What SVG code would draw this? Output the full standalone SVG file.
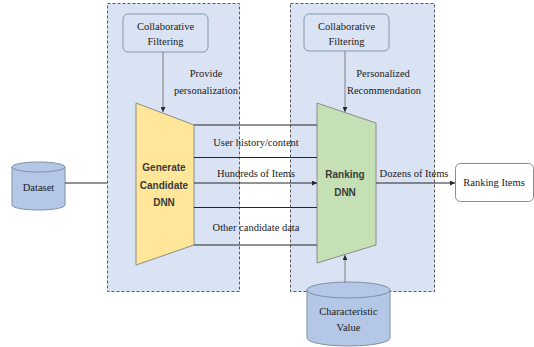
<svg xmlns="http://www.w3.org/2000/svg" width="534" height="347" viewBox="0 0 534 347">
<defs>
<style>
.zone{fill:#dae3f3;stroke:#595959;stroke-width:1;stroke-dasharray:3,2}
.cf{fill:#dae3f3;stroke:#8497b0;stroke-width:1}
.lbl{font-family:"Liberation Serif","Times New Roman",serif;font-size:10.5px;fill:#1a1a1a;text-anchor:middle}
.bold{font-family:"Liberation Sans",Arial,sans-serif;font-weight:bold;font-size:10px;fill:#3a3a3a;text-anchor:middle}
.ln{stroke:#262626;stroke-width:1;fill:none}
.thin{stroke:#7f7f7f;stroke-width:1;fill:none}
.cyl{fill:#b4c7e7;stroke:#7f8fa6;stroke-width:1}
</style>
<marker id="ah" viewBox="0 0 10 10" refX="10" refY="5" markerWidth="5" markerHeight="5" orient="auto"><path d="M0,0 L10,5 L0,10 z" fill="#262626"/></marker>
</defs>
<rect width="534" height="347" fill="#ffffff"/>
<g id="zone-left"><rect class="zone" x="107.5" y="3.5" width="132" height="288"/></g>
<g id="zone-right"><rect class="zone" x="290.5" y="3.5" width="144" height="288"/></g>
<g id="cf-left"><rect class="cf" x="123" y="14" width="85" height="38" rx="5"/><text class="lbl" x="165.5" y="30">Collaborative</text><text class="lbl" x="165.5" y="45">Filtering</text></g>
<g id="cf-right"><rect class="cf" x="304" y="14" width="85" height="37" rx="5"/><text class="lbl" x="346.5" y="30">Collaborative</text><text class="lbl" x="346.5" y="45">Filtering</text></g>
<g id="gen-dnn"><polygon points="136,103 194,125 194,245 136,265" fill="#ffe699" stroke="#8c8c8c" stroke-width="1"/><text class="bold" x="164" y="171">Generate</text><text class="bold" x="164" y="189">Candidate</text><text class="bold" x="164" y="206">DNN</text></g>
<g id="rank-dnn"><polygon points="317,103 376,123 376,245 317,263" fill="#c5e0b4" stroke="#8c8c8c" stroke-width="1"/><text class="bold" x="345" y="178">Ranking</text><text class="bold" x="345" y="196">DNN</text></g>
<g id="dataset"><path class="cyl" d="M12,167 A26.5,5 0 0 1 65,167 L65,205 A26.5,5 0 0 1 12,205 Z"/><path d="M12,167 A26.5,5 0 0 0 65,167" fill="none" stroke="#7f8fa6"/><text class="lbl" x="38.5" y="191">Dataset</text></g>
<g id="charval"><path class="cyl" d="M307,290 A41.5,8 0 0 1 390,290 L390,338 A41.5,8 0 0 1 307,338 Z"/><path d="M307,290 A41.5,8 0 0 0 390,290" fill="none" stroke="#7f8fa6"/><text class="lbl" x="348.5" y="315">Characteristic</text><text class="lbl" x="348.5" y="331">Value</text></g>
<g id="ranking-items"><rect x="455.5" y="163.5" width="78" height="38" rx="5" fill="#ffffff" stroke="#8c8c8c"/><text class="lbl" x="494" y="186">Ranking Items</text></g>
<g id="connectors">
<line class="thin" x1="163" y1="52" x2="163" y2="112" marker-end="url(#ah)"/>
<line class="thin" x1="345" y1="51" x2="345" y2="112" marker-end="url(#ah)"/>
<line class="ln" x1="65" y1="183" x2="107" y2="183" stroke-width="1.5"/>
<line class="ln" x1="194" y1="125" x2="317" y2="125"/>
<line class="ln" x1="194" y1="157.5" x2="317" y2="157.5"/>
<line class="ln" x1="194" y1="183" x2="317" y2="183" stroke-width="1.3" marker-end="url(#ah)"/>
<line class="ln" x1="194" y1="207.5" x2="317" y2="207.5"/>
<line class="ln" x1="194" y1="245" x2="317" y2="245"/>
<line class="ln" x1="376" y1="183" x2="455" y2="183" stroke-width="1.3" marker-end="url(#ah)"/>
<line class="thin" x1="345" y1="283" x2="345" y2="255" marker-end="url(#ah)"/>
</g>
<g id="labels">
<text class="lbl" x="206" y="77">Provide</text>
<text class="lbl" x="206" y="94">personalization</text>
<text class="lbl" x="383" y="77">Personalized</text>
<text class="lbl" x="384" y="94">Recommendation</text>
<text class="lbl" x="256" y="146">User history/content</text>
<text class="lbl" x="256" y="177">Hundreds of Items</text>
<text class="lbl" x="256" y="231">Other candidate data</text>
<text class="lbl" x="414" y="177">Dozens of Items</text>
</g>
</svg>
